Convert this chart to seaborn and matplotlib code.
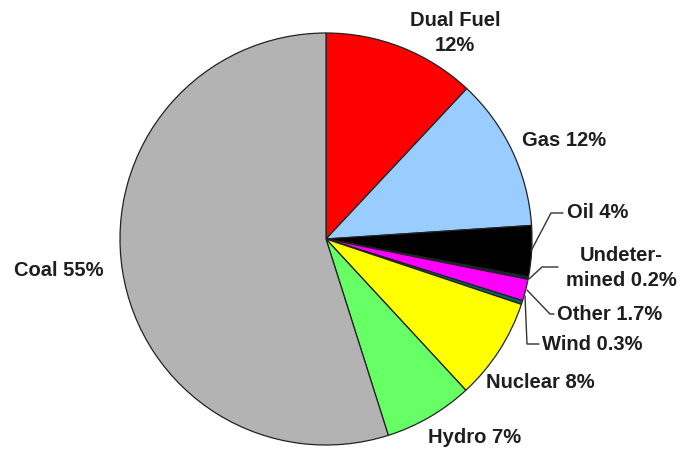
import matplotlib
matplotlib.use("Agg")
import matplotlib.pyplot as plt
import seaborn as sns

sns.set_theme(style="white")
plt.rcParams['font.family'] = ['Liberation Sans', 'DejaVu Sans']

categories = ["Dual Fuel", "Gas", "Oil", "Undetermined", "Other", "Wind",
              "Nuclear", "Hydro", "Coal"]
shares = [12, 12, 4, 0.2, 1.7, 0.3, 8, 7, 55]
labels = ["Dual Fuel\n12%", "Gas 12%", "Oil 4%", "Undeter-\nmined 0.2%",
          "Other 1.7%", "Wind 0.3%", "Nuclear 8%", "Hydro 7%", "Coal 55%"]
colors = ["#FF0000", "#99CCFF", "#000000", "#1a1a4a", "#FF00FF", "#006666",
          "#FFFF00", "#66FF66", "#B3B3B3"]

W, H = 685, 456
fig = plt.figure(figsize=(W / 100, H / 100), dpi=100)
ax = fig.add_axes([0, 0, 1, 1])

cx, cy, r = 326, H - 240, 206
ax.pie(shares, colors=colors, startangle=90, counterclock=False,
       center=(cx, cy), radius=r, frame=True,
       wedgeprops=dict(edgecolor="#222222", linewidth=0.9))
ax.set_xlim(0, W)
ax.set_ylim(0, H)
ax.set_aspect("equal")
ax.axis("off")

tkw = dict(fontsize=14.5, fontweight="bold", color="#1e1e1e")

def Y(y):
    return H - y

# label positions (pixel layout)
pos = {
    "Dual Fuel": (455, 33, "center"),
    "Gas": (522, 140, "left"),
    "Oil": (567, 213, "left"),
    "Undetermined": (621, 268, "center"),
    "Other": (557, 315, "left"),
    "Wind": (542, 345, "left"),
    "Nuclear": (486, 383, "left"),
    "Hydro": (428, 438, "left"),
    "Coal": (14, 271, "left"),
}
for cat, lab in zip(categories, labels):
    x, y, ha = pos[cat]
    ax.text(x, Y(y), lab, ha=ha, va="center", linespacing=1.45, **tkw)

# leader lines
leaders = [
    [(531, 252), (551, 214), (563, 214)],
    [(529, 280), (542, 268), (558, 268)],
    [(527, 291), (550, 315), (554, 315)],
    [(525, 297), (527, 345), (539, 345)],
]
for pts in leaders:
    xs = [p[0] for p in pts]
    ys = [Y(p[1]) for p in pts]
    ax.plot(xs, ys, color="#333333", linewidth=1.0)

fig.savefig("out.png", dpi=100, facecolor="white")
